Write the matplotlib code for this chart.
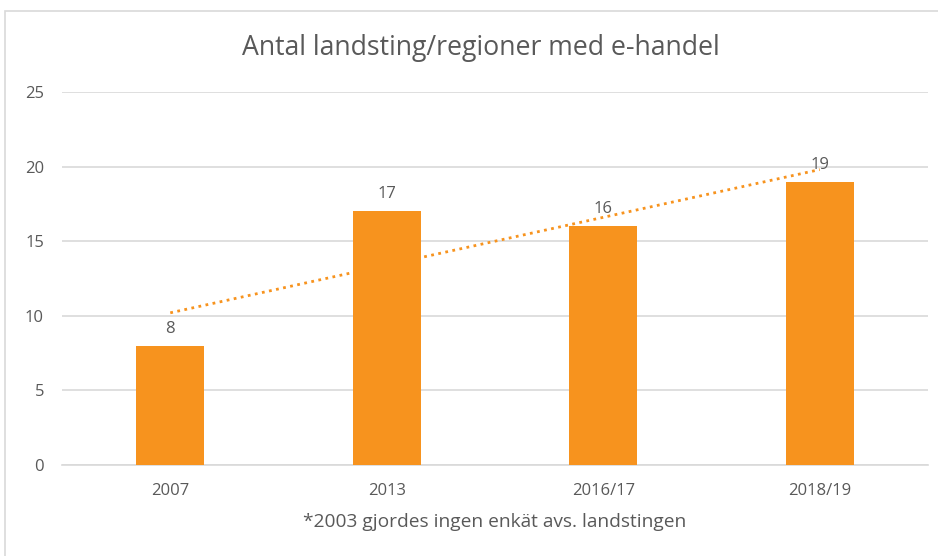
import matplotlib
matplotlib.use("Agg")
import matplotlib.pyplot as plt
import numpy as np
from matplotlib.patches import Rectangle

categories = ["2007", "2013", "2016/17", "2018/19"]
values = [8, 17, 16, 19]
yticks = [0, 5, 10, 15, 20, 25]
title = "Antal landsting/regioner med e-handel"
footnote = "*2003 gjordes ingen enkät avs. landstingen"

plt.rcParams['font.family'] = ['Open Sans', 'DejaVu Sans']
txt = '#595959'
orange = '#F7931E'

fig = plt.figure(figsize=(9.38, 5.56), dpi=100)
fig.patches.append(Rectangle((5/938, -0.02), 1.1, (556-11)/556 + 0.02, transform=fig.transFigure,
                             fill=False, edgecolor='#d9d9d9', linewidth=1.2))
ax = fig.add_axes([62/938, 91/556, 866/938, 373/556])

x = np.arange(len(categories))
ax.bar(x, values, width=0.315, color=orange, zorder=3)

# linear trendline
coef = np.polyfit(x, values, 1)
xt = np.array([x[0], x[-1]])
ax.plot(xt, np.polyval(coef, xt), linestyle=(0, (1, 1.6)), color=orange, linewidth=2, zorder=2)

for xi, v in zip(x, values):
    ax.text(xi, v + 0.6, str(v), ha='center', va='bottom', fontsize=12, color=txt, zorder=4)

ax.set_xlim(-0.5, 3.5)
ax.set_ylim(0, 25)
ax.set_yticks(yticks)
ax.set_xticks(x)
ax.set_xticklabels(categories)
ax.yaxis.grid(True, color='#d9d9d9', linewidth=1.2, zorder=0)
ax.set_axisbelow(True)
for s in ['top', 'right', 'left']:
    ax.spines[s].set_visible(False)
ax.spines['bottom'].set_color('#d9d9d9')
ax.spines['bottom'].set_linewidth(1.2)
ax.tick_params(axis='both', length=0, labelsize=12, colors=txt)
ax.tick_params(axis='x', pad=13)
ax.tick_params(axis='y', pad=13)

ax.set_xlabel(footnote, fontsize=13.8, color=txt, labelpad=10)
fig.text(0.513, 1 - 48/556, title, ha='center', va='center', fontsize=19.2, color=txt)

fig.savefig("out.png", dpi=100)
